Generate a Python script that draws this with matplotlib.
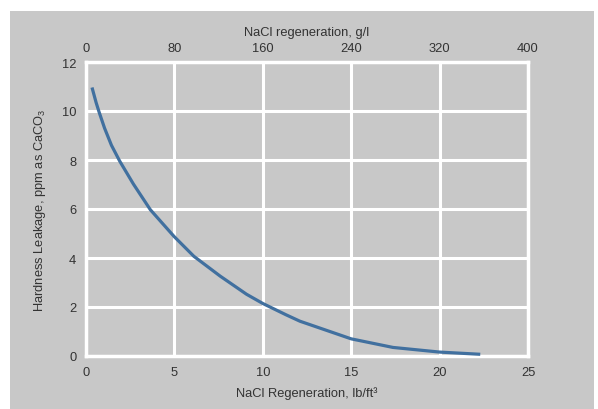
import matplotlib
matplotlib.use("Agg")
from matplotlib import pyplot as plt
from matplotlib.patches import Rectangle

# curve (lb/ft3 vs ppm as CaCO3)
regen_lb = [0.34, 0.57, 0.73, 1.05, 1.44, 1.91, 2.68, 3.64, 4.98, 6.10, 7.59,
            9.08, 10.01, 11.32, 12.1, 15.0, 17.36, 20.0, 22.3]
leakage = [10.96, 10.35, 9.98, 9.30, 8.60, 7.95, 7.02, 5.97, 4.88, 4.07, 3.26,
           2.52, 2.14, 1.68, 1.42, 0.70, 0.35, 0.16, 0.07]

x_ticks = [0, 5, 10, 15, 20, 25]
y_ticks = [0, 2, 4, 6, 8, 10, 12]
top_ticks = [0, 80, 160, 240, 320, 400]
g_per_lb = 16.0  # 400 g/l == 25 lb/ft3 on this chart

plt.rcParams['font.family'] = ['Liberation Sans', 'DejaVu Sans']
plt.rcParams['mathtext.fontset'] = 'custom'
plt.rcParams['mathtext.rm'] = 'Liberation Sans'
plt.rcParams['mathtext.it'] = 'Liberation Sans'

gray = '#c8c8c8'
text_col = '#333333'
fs = 9.3

fig = plt.figure(figsize=(5.98, 4.10), dpi=100)
fig.patches.append(Rectangle((10 / 598, 0), 584 / 598, 398 / 410,
                             transform=fig.transFigure, facecolor=gray,
                             edgecolor='none', zorder=-10))

ax = fig.add_axes([86 / 598, 1 - 357 / 410, 442 / 598, 294 / 410])
ax.set_facecolor(gray)
ax.plot(regen_lb, leakage, color='#41709f', linewidth=2.3, solid_capstyle='butt', zorder=3)

ax.set_xlim(0, 25)
ax.set_ylim(0, 12)
ax.set_xticks(x_ticks)
ax.set_yticks(y_ticks)
ax.grid(True, color='white', linewidth=2.2)
ax.set_axisbelow(True)
for side in ax.spines.values():
    side.set_color('white')
    side.set_linewidth(2.5)
ax.tick_params(length=0, labelsize=fs, colors=text_col, pad=7)
ax.tick_params(axis='y', pad=7)

ax.set_xlabel('NaCl Regeneration, lb/ft³', fontsize=fs, color=text_col, labelpad=6)
ax.set_ylabel('Hardness Leakage, ppm as CaCO$_3$', fontsize=fs, color=text_col, labelpad=10)

top = ax.secondary_xaxis('top', functions=(lambda v: v * g_per_lb, lambda v: v / g_per_lb))
top.set_xticks(top_ticks)
top.tick_params(length=0, labelsize=fs, colors=text_col, pad=6)
top.spines['top'].set_visible(False)
top.set_xlabel('NaCl regeneration, g/l', fontsize=fs, color=text_col, labelpad=5)

fig.savefig('out.png', dpi=100)
